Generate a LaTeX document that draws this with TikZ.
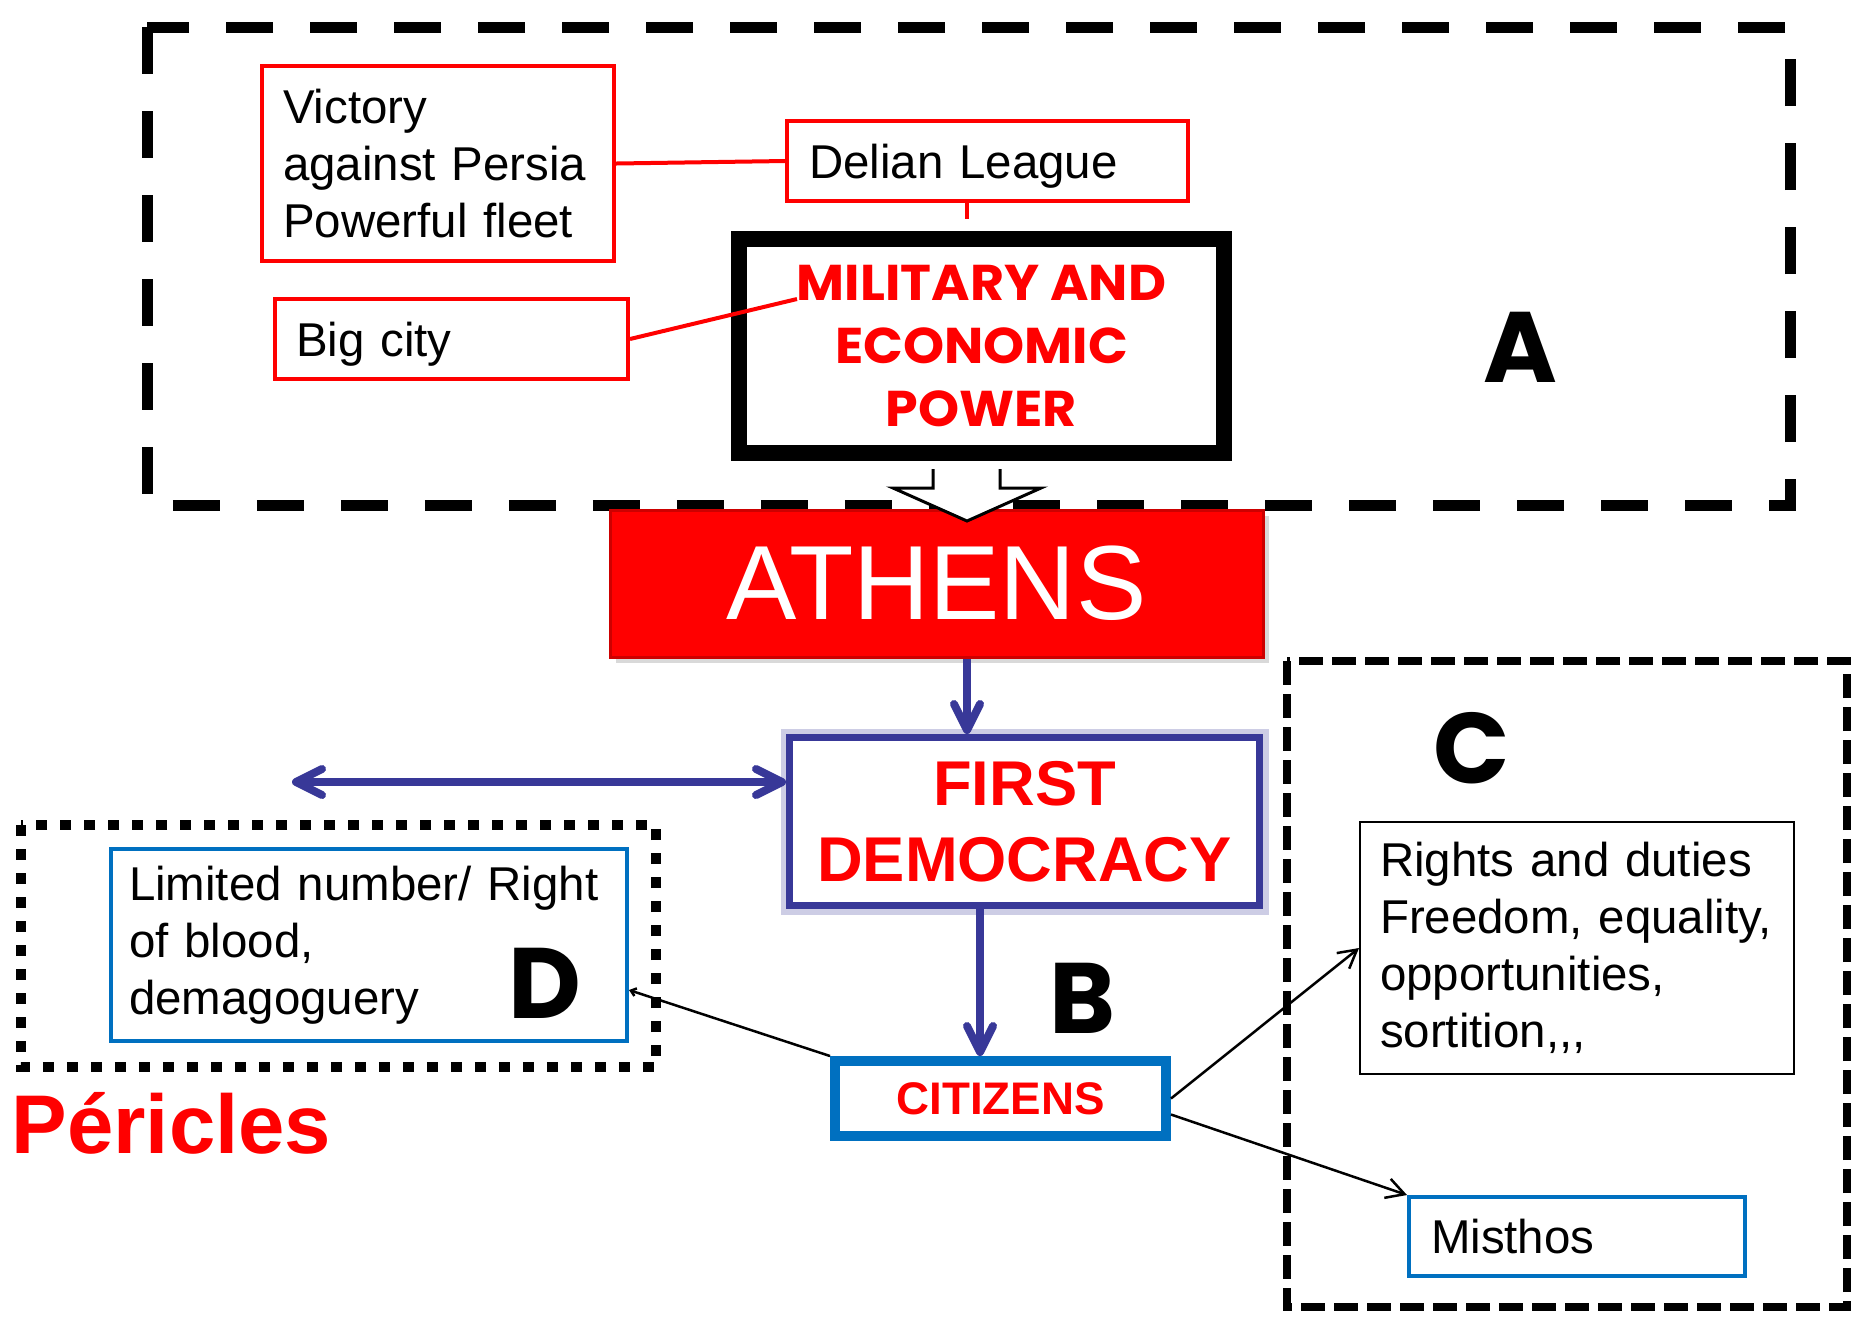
\documentclass[tikz,border=0pt]{standalone}
\usepackage{fontspec}
\setmainfont{Liberation Sans}
\newfontfamily\geofont{Poppins}
\newfontfamily\geonarrow{Poppins}[FakeStretch=1.04]
\usetikzlibrary{arrows.meta,shadows}
\definecolor{pptred}{RGB}{255,0,0}
\definecolor{demblue}{RGB}{56,56,152}
\definecolor{citblue}{RGB}{0,112,192}
\tikzset{demtip/.tip={Straight Barb[length=2.6mm,width=2.6mm,round]}}

\begin{document}
\begin{tikzpicture}[x=0.1mm,y=-0.1mm,
	txt/.style={font=\fontsize{13.5}{16.2}\selectfont,align=left,inner ysep=0pt},
	redbox/.style={txt,draw=pptred,line width=0.4mm},
	bluebox/.style={txt,draw=citblue,line width=0.4mm},
	redlink/.style={draw=pptred,line width=0.4mm},
	bluearrow/.style={draw=demblue,line width=0.8mm,-demtip},
	thinarrow/.style={draw=black,line width=0.25mm,-{Straight Barb[length=1.8mm,width=2mm]}},
	letter/.style={font=\geofont\bfseries\fontsize{28.5}{30}\selectfont,inner sep=0pt},
	frameA/.style={line width=1.1mm,dash pattern=on 4.7mm off 3.7mm},
	frameC/.style={line width=0.8mm,dash pattern=on 2.4mm off 0.9mm},
	frameD/.style={line width=1mm,dash pattern=on 1.1mm off 1.3mm}]

	\useasboundingbox (0,0) rectangle (1855,1317);

	\draw[frameA] (147,27) rectangle (1790,505);
	\draw[frameC] (1287,661) rectangle (1847,1307);
	\draw[frameD] (21,825) rectangle (656,1067);

	\coordinate (spine) at (967,0);
	\coordinate (spine2) at (980,0);

	\node[redbox,minimum width=35.2mm,minimum height=19.5mm,inner xsep=2.1mm,text width=31mm] (vict) at (438,163.5) {Victory\\against Persia\\Powerful fleet};
	\node[redbox,minimum width=40.1mm,minimum height=8mm,inner xsep=2.2mm,text width=35.7mm,text depth=0pt] (delian) at (987.5,161) {Delian League};
	\node[redbox,minimum width=35.3mm,minimum height=8mm,inner xsep=2.1mm,text width=31.1mm,text depth=0pt] (bigc) at (451.5,339) {Big city};
	\node[draw=black,line width=1.6mm,minimum width=48.5mm,minimum height=21.4mm,align=center,text=pptred,
		font=\geonarrow\bfseries\fontsize{14.3}{17.9}\selectfont] (mil) at (981.5,346) {MILITARY AND\\ECONOMIC\\POWER};
	\node[letter] (labA) at (1520,347) {A};

	\node[fill=pptred,draw={rgb,255:red,205;green,0;blue,0},line width=0.3mm,minimum width=65.3mm,minimum height=14.7mm,
		drop shadow={shadow xshift=0.6mm,shadow yshift=-0.6mm,opacity=0.3},text=white,
		font=\fontsize{30}{36}\selectfont] (ath) at (936.5,583.5) {ATHENS};
	\node[draw=demblue,line width=0.7mm,preaction={draw=demblue!25,line width=1.8mm},fill=white,
		minimum width=47mm,minimum height=16.8mm,align=center,text=pptred,
		font=\bfseries\fontsize{18}{21.6}\selectfont] (dem) at (1024.5,821.5) {FIRST\\DEMOCRACY};
	\node[draw=citblue,line width=1mm,minimum width=33.1mm,minimum height=7.5mm,text=pptred,
		font=\bfseries\fontsize{13}{15.6}\selectfont] (cit) at (1000.5,1098.5) {CITIZENS};
	\node[letter] (labB) at (1082,998) {B};

	\node[bluebox,minimum width=51.6mm,minimum height=19.2mm,inner xsep=1.8mm,text width=48mm] (lim) at (369,945) {Limited number/ Right\\of blood,\\demagoguery};
	\node[letter] (labD) at (545,983) {D};
	\node[anchor=base west,inner sep=0pt,text=pptred,font=\bfseries\fontsize{23.7}{28}\selectfont] (peric) at (11,1153) {Péricles};

	\node[txt,draw=black,line width=0.2mm,minimum width=43.4mm,minimum height=25.2mm,inner xsep=2mm,text width=39.4mm] (rights) at (1577,948) {Rights and duties\\Freedom, equality,\\opportunities,\\sortition,{},{},};
	\node[bluebox,minimum width=33.6mm,minimum height=7.9mm,inner xsep=2.2mm,text width=29.2mm] (mis) at (1577,1236.5) {Misthos};
	\node[letter] (labC) at (1472,748) {C};

	\coordinate (stubend) at (967,219);
	\coordinate (milnotch) at (797,299);
	\coordinate (leftend) at (292,782);
	\draw[redlink] (vict.east) -- (delian.west);
	\draw[redlink] (delian.south -| spine) -- (stubend);
	\draw[redlink] (bigc.east) -- (milnotch);

	\draw[line width=0.3mm,fill=white] ([yshift=-0.8mm]mil.south -| spine) ++(-34,0) -- ++(0,19) -- ++(-40,0) -- ++(74,33) -- ++(74,-33) -- ++(-41,0) -- ++(0,-19);

	\draw[bluearrow] (ath.south -| spine) -- (dem.north -| spine);
	\draw[bluearrow] (dem.south -| spine2) -- (cit.north -| spine2);
	\draw[bluearrow,demtip-demtip] (leftend) -- (leftend -| dem.west);

	\draw[thinarrow,-{Straight Barb[length=0.5mm,width=0.8mm]}] (cit.north west) -- ([yshift=-4.5mm]lim.east);
	\draw[thinarrow] (cit.east) -- (rights.west);
	\draw[thinarrow] ([yshift=-1.6mm]cit.east) -- (mis.north west);
\end{tikzpicture}
\end{document}
